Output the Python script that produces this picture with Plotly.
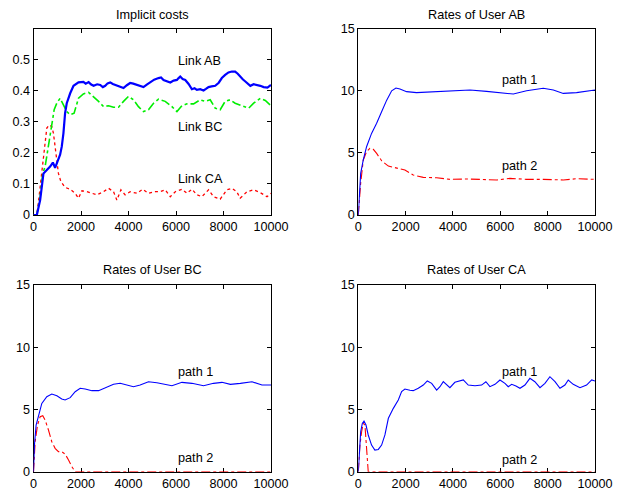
import plotly.graph_objects as go

# ---------------- data ----------------
# Implicit costs
ab_x = [0, 140, 280, 350, 420, 560, 700, 815, 910, 985, 1120, 1190, 1260, 1330, 1400, 1545, 1685, 1895, 2100, 2200, 2320, 2430, 2530, 2680, 2810, 2920, 3020, 3120, 3230, 3340, 3440, 3600, 3790, 3930, 4070, 4200, 4350, 4480, 4630, 4770, 4910, 5080, 5265, 5370, 5475, 5620, 5760, 5900, 6040, 6100, 6180, 6280, 6390, 6530, 6670, 6780, 6880, 7020, 7160, 7260, 7370, 7500, 7650, 7800, 7930, 8070, 8210, 8350, 8490, 8600, 8700, 8810, 8920, 9030, 9130, 9270, 9410, 9550, 9690, 9850, 10000]
ab_y = [0, 0, 0.048, 0.09, 0.134, 0.145, 0.156, 0.169, 0.152, 0.167, 0.194, 0.22, 0.263, 0.328, 0.36, 0.392, 0.416, 0.427, 0.429, 0.423, 0.428, 0.42, 0.416, 0.421, 0.419, 0.412, 0.416, 0.424, 0.427, 0.422, 0.419, 0.414, 0.409, 0.418, 0.425, 0.423, 0.419, 0.414, 0.412, 0.42, 0.427, 0.436, 0.441, 0.443, 0.435, 0.431, 0.427, 0.433, 0.435, 0.44, 0.446, 0.438, 0.435, 0.422, 0.405, 0.408, 0.403, 0.405, 0.401, 0.406, 0.412, 0.414, 0.416, 0.426, 0.441, 0.451, 0.459, 0.462, 0.462, 0.455, 0.446, 0.437, 0.43, 0.424, 0.416, 0.421, 0.419, 0.416, 0.412, 0.41, 0.419]

bc_x = [0, 140, 280, 390, 490, 560, 630, 700, 770, 870, 980, 1120, 1260, 1400, 1545, 1710, 1895, 2100, 2320, 2530, 2740, 2950, 3160, 3370, 3580, 3790, 4000, 4210, 4420, 4630, 4840, 5055, 5265, 5545, 5830, 6040, 6250, 6460, 6740, 7020, 7230, 7440, 7650, 7860, 8070, 8280, 8490, 8770, 9060, 9270, 9550, 9760, 10000]
bc_y = [0, 0, 0.059, 0.134, 0.156, 0.188, 0.22, 0.263, 0.296, 0.339, 0.36, 0.376, 0.355, 0.333, 0.323, 0.328, 0.376, 0.39, 0.395, 0.382, 0.366, 0.349, 0.352, 0.347, 0.347, 0.366, 0.382, 0.371, 0.349, 0.333, 0.339, 0.36, 0.373, 0.366, 0.349, 0.333, 0.352, 0.358, 0.358, 0.371, 0.366, 0.371, 0.344, 0.339, 0.366, 0.371, 0.36, 0.352, 0.344, 0.36, 0.376, 0.369, 0.352]

ca_x = [0, 140, 250, 350, 420, 490, 560, 660, 770, 840, 910, 980, 1050, 1150, 1330, 1545, 1755, 1895, 2040, 2250, 2460, 2670, 2950, 3160, 3370, 3510, 3680, 3860, 4070, 4350, 4600, 4840, 5125, 5335, 5545, 5760, 5970, 6250, 6460, 6670, 6880, 7090, 7370, 7580, 7860, 8140, 8350, 8560, 8700, 8990, 9270, 9550, 9830, 10000]
ca_y = [0, 0, 0.07, 0.134, 0.188, 0.242, 0.28, 0.29, 0.285, 0.263, 0.22, 0.177, 0.134, 0.108, 0.089, 0.083, 0.07, 0.054, 0.078, 0.075, 0.07, 0.065, 0.075, 0.086, 0.075, 0.048, 0.081, 0.065, 0.075, 0.07, 0.083, 0.07, 0.075, 0.075, 0.081, 0.059, 0.075, 0.083, 0.07, 0.083, 0.065, 0.059, 0.081, 0.059, 0.051, 0.081, 0.086, 0.075, 0.054, 0.075, 0.081, 0.072, 0.059, 0.07]

# Rates of User AB
uab1_x = [0, 40, 100, 210, 350, 560, 775, 985, 1200, 1410, 1590, 1760, 2040, 2460, 2890, 3590, 4720, 5420, 5985, 6550, 7110, 7815, 8240, 8660, 9220, 10000]
uab1_y = [0, 1.74, 3.35, 4.43, 5.5, 6.57, 7.38, 8.32, 9.25, 10.0, 10.22, 10.14, 9.93, 9.85, 9.9, 9.93, 10.06, 9.95, 9.87, 9.74, 10.0, 10.2, 10.06, 9.79, 9.85, 10.06]
uab2_x = [0, 40, 100, 210, 350, 490, 635, 775, 985, 1270, 1550, 1970, 2320, 2745, 3310, 3870, 4575, 5420, 5845, 6410, 7110, 7815, 8660, 9220, 10000]
uab2_y = [0, 1.2, 2.55, 4.43, 5.1, 5.37, 5.29, 4.96, 4.37, 3.94, 3.81, 3.62, 3.22, 3.03, 3.0, 2.87, 2.9, 2.82, 2.82, 2.95, 2.87, 2.87, 2.82, 2.92, 2.87]

# Rates of User BC
ubc1_x = [0, 40, 110, 210, 350, 560, 770, 985, 1190, 1330, 1545, 1755, 1965, 2175, 2460, 2740, 3020, 3370, 3650, 4000, 4210, 4490, 4840, 5195, 5620, 5830, 6250, 6670, 7160, 7580, 7935, 8290, 8710, 9200, 9620, 10000]
ubc1_y = [0, 2.14, 3.75, 4.55, 5.49, 6.03, 6.24, 6.1, 5.84, 5.76, 5.95, 6.43, 6.7, 6.64, 6.51, 6.51, 6.75, 7.02, 7.1, 6.96, 6.83, 6.96, 7.23, 7.15, 6.96, 6.91, 7.18, 7.1, 6.91, 7.1, 7.18, 7.02, 7.1, 7.23, 6.96, 6.96]
ubc2_x = [0, 70, 170, 280, 390, 490, 630, 770, 910, 1050, 1190, 1330, 1475, 1615, 1755, 10000]
ubc2_y = [0, 2.41, 3.75, 4.42, 4.5, 4.15, 3.35, 2.41, 1.88, 1.61, 1.61, 1.42, 0.94, 0.4, 0, 0]

# Rates of User CA
uca1_x = [0, 40, 100, 170, 240, 325, 420, 560, 700, 845, 985, 1125, 1270, 1480, 1690, 1830, 1970, 2180, 2320, 2535, 2745, 2915, 3100, 3310, 3450, 3590, 3730, 3870, 4080, 4435, 4645, 4930, 5210, 5390, 5560, 5775, 5985, 6195, 6335, 6480, 6660, 6830, 7040, 7250, 7460, 7675, 7885, 8095, 8310, 8520, 8730, 8870, 9080, 9365, 9645, 9860, 10000]
uca1_y = [0, 1.6, 3.21, 3.88, 4.07, 3.75, 2.95, 2.14, 1.74, 1.79, 2.14, 2.95, 4.29, 5.09, 5.76, 6.43, 6.64, 6.54, 6.51, 6.7, 6.96, 7.29, 7.1, 6.56, 6.83, 7.23, 6.96, 6.75, 7.18, 7.37, 6.96, 6.91, 6.96, 7.23, 6.83, 7.02, 7.37, 7.1, 6.83, 7.02, 6.88, 6.7, 6.96, 7.5, 7.23, 6.75, 7.1, 7.63, 7.23, 6.7, 6.96, 7.37, 7.02, 6.75, 6.96, 7.37, 7.29]
uca2_x = [0, 70, 140, 210, 280, 325, 380, 420, 10000]
uca2_y = [0, 2.14, 3.21, 3.88, 3.75, 2.68, 1.07, 0, 0]

x_ticks = [0, 2000, 4000, 6000, 8000, 10000]
x_ticktext = ["0", "2000", "4000", "6000", "8000", "10000"]
cost_ticks = [0, 0.1, 0.2, 0.3, 0.4, 0.5]
cost_ticktext = ["0", "0.1", "0.2", "0.3", "0.4", "0.5"]
rate_ticks = [0, 5, 10, 15]
rate_ticktext = ["0", "5", "10", "15"]

titles = ["Implicit costs", "Rates of User AB", "Rates of User BC", "Rates of User CA"]

# ---------------- figure ----------------
BLUE = "#0000ff"
RED = "#ff0000"
GREEN = "#00ee00"
FONT = "Liberation Sans, Arial, Helvetica, sans-serif"
TICKSIZE = 12.6
TEXTSIZE = 12.7

fig = go.Figure()

def line(x, y, ax, color, dash, width):
    fig.add_trace(go.Scatter(x=x, y=y, mode="lines", xaxis="x" + ax, yaxis="y" + ax,
                             line=dict(color=color, dash=dash, width=width),
                             showlegend=False, hoverinfo="skip"))

line(ca_x, ca_y, "", RED, "dot", 1.3)
line(bc_x, bc_y, "", GREEN, "dashdot", 1.6)
line(ab_x, ab_y, "", BLUE, "solid", 2.2)

line(uab2_x, uab2_y, "2", RED, "dashdot", 1.1)
line(uab1_x, uab1_y, "2", BLUE, "solid", 1.1)

line(ubc2_x, ubc2_y, "3", RED, "dashdot", 1.1)
line(ubc1_x, ubc1_y, "3", BLUE, "solid", 1.1)

line(uca2_x, uca2_y, "4", RED, "dashdot", 1.1)
line(uca1_x, uca1_y, "4", BLUE, "solid", 1.1)

xdom_l = [33.5 / 619, 271 / 619]
xdom_r = [358.3 / 619, 595 / 619]
ydom_t = [275 / 490, 461.3 / 490]
ydom_b = [18.3 / 490, 205 / 490]

def xa(dom, anchor):
    return dict(domain=dom, anchor=anchor, range=[0, 10000], tickvals=x_ticks, ticktext=x_ticktext,
                ticks="inside", ticklen=4, tickcolor="black", mirror="ticks",
                showline=True, linecolor="black", linewidth=1, showgrid=False,
                zeroline=False, tickfont=dict(size=TICKSIZE, color="black", family=FONT),
                layer="below traces", automargin=False)

def ya(dom, anchor, rng, tv, tt):
    return dict(domain=dom, anchor=anchor, range=rng, tickvals=tv, ticktext=tt,
                ticks="inside", ticklen=4, tickcolor="black", mirror="ticks",
                showline=True, linecolor="black", linewidth=1, showgrid=False,
                zeroline=False, tickfont=dict(size=TICKSIZE, color="black", family=FONT),
                layer="below traces", automargin=False)

fig.update_layout(
    width=619, height=490,
    margin=dict(l=0, r=0, t=0, b=0, autoexpand=False),
    paper_bgcolor="white", plot_bgcolor="white",
    font=dict(family=FONT, size=TEXTSIZE, color="black"),
    xaxis=xa(xdom_l, "y"), yaxis=ya(ydom_t, "x", [0, 0.6], cost_ticks, cost_ticktext),
    xaxis2=xa(xdom_r, "y2"), yaxis2=ya(ydom_t, "x2", [0, 15], rate_ticks, rate_ticktext),
    xaxis3=xa(xdom_l, "y3"), yaxis3=ya(ydom_b, "x3", [0, 15], rate_ticks, rate_ticktext),
    xaxis4=xa(xdom_r, "y4"), yaxis4=ya(ydom_b, "x4", [0, 15], rate_ticks, rate_ticktext),
)

# subplot titles (paper coordinates from pixel positions)
title_pos = [((xdom_l[0] + xdom_l[1]) / 2, 1 - 15 / 490),
             ((xdom_r[0] + xdom_r[1]) / 2, 1 - 15 / 490),
             ((xdom_l[0] + xdom_l[1]) / 2, 1 - 270 / 490),
             ((xdom_r[0] + xdom_r[1]) / 2, 1 - 270 / 490)]
for t, (px, py) in zip(titles, title_pos):
    fig.add_annotation(text=t, x=px, y=py, xref="paper", yref="paper", showarrow=False,
                       xanchor="center", yanchor="middle", font=dict(size=TEXTSIZE, color="black"))

labels = [("Link AB", "", 6000, 0.497), ("Link BC", "", 6000, 0.285), ("Link CA", "", 6000, 0.116),
          ("path 1", "2", 6000, 10.87), ("path 2", "2", 6000, 3.97),
          ("path 1", "3", 6000, 8.0), ("path 2", "3", 6000, 1.08),
          ("path 1", "4", 6000, 8.0), ("path 2", "4", 6000, 0.94)]
for txt, ax, lx, ly in labels:
    fig.add_annotation(text=txt, x=lx, y=ly, xref="x" + ax, yref="y" + ax, showarrow=False,
                       xanchor="left", yanchor="middle", font=dict(size=TEXTSIZE, color="black"))

fig.write_html("out.html")
